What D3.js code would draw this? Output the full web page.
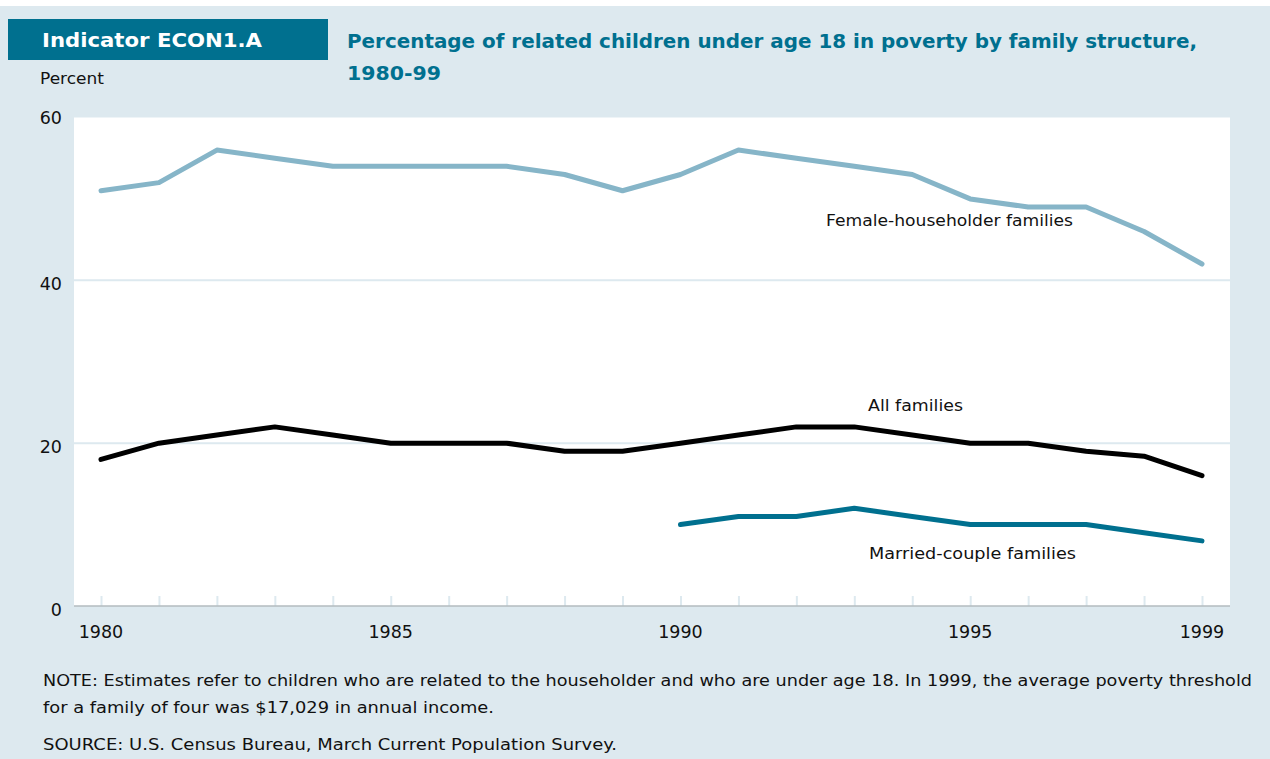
<!DOCTYPE html>
<html><head><meta charset="utf-8">
<script src="https://cdn.jsdelivr.net/npm/d3@7"></script>
<style>body{margin:0;background:#fff}svg{display:block}text{font-family:"DejaVu Sans",sans-serif}</style>
</head><body>
<script>
const years = d3.range(1980, 2000);
const femaleValues = [51,52,56,55,54,54,54,54,53,51,53,56,55,54,53,50,49,49,46,42];
const allValues = [18,20,21,22,21,20,20,20,19,19,20,21,22,22,21,20,20,19,18.4,16];
const marriedYears = d3.range(1990, 2000);
const marriedValues = [10,11,11,12,11,10,10,10,9,8];
const yTicks = [0,20,40,60];
const xTickLabels = [1980,1985,1990,1995,1999];

const W=1270,H=759;
const svg=d3.select("body").append("svg").attr("width",W).attr("height",H);
svg.append("rect").attr("x",0).attr("y",6).attr("width",W).attr("height",H-6).attr("fill","#dde9ef");

const x=d3.scaleLinear().domain([1980,1999]).range([101,1202]);
const y=d3.scaleLinear().domain([0,60]).range([606,117.5]);

function fit(sel,w){ sel.each(function(){ this.setAttribute("textLength",w); this.setAttribute("lengthAdjust","spacingAndGlyphs"); }); return sel; }

svg.append("rect").attr("x",74).attr("y",y(60)).attr("width",1230-74).attr("height",y(0)-y(60)).attr("fill","#fff");

svg.append("g").selectAll("line").data([20,40]).join("line")
 .attr("x1",74).attr("x2",1230).attr("y1",d=>y(d)).attr("y2",d=>y(d))
 .attr("stroke","#dde9ef").attr("stroke-width",2);

const xAxis=d3.axisBottom(x).tickValues(years).tickSize(-10).tickFormat("");
const gx=svg.append("g").attr("transform",`translate(0,${y(0)})`).call(xAxis);
gx.select(".domain").remove();
gx.selectAll(".tick line").attr("stroke","#dde9ef").attr("stroke-width",2);
svg.append("line").attr("x1",74).attr("x2",1230).attr("y1",y(0)).attr("y2",y(0)).attr("stroke","#b3bbbf").attr("stroke-width",1.5);
svg.append("g").selectAll("text").data(xTickLabels).join("text")
 .attr("x",d=>x(d)).attr("y",638).attr("text-anchor","middle").attr("font-size",17.5).attr("fill","#111").text(d=>d);

svg.append("g").selectAll("text").data(yTicks).join("text")
 .attr("x",62).attr("y",d=>y(d)+(d===60?6.5:9.5)).attr("text-anchor","end").attr("font-size",17.5).attr("fill","#111").text(d=>d);

const line=d3.line().x(d=>x(d[0])).y(d=>y(d[1]));
function draw(xs,vs,color){
 svg.append("path").datum(xs.map((yr,i)=>[yr,vs[i]])).attr("d",line)
  .attr("fill","none").attr("stroke",color).attr("stroke-width",5).attr("stroke-linejoin","round").attr("stroke-linecap","round");
}
draw(years,femaleValues,"#86b5c8");
draw(years,allValues,"#000");
draw(marriedYears,marriedValues,"#00708f");

const lab=[["Female-householder families",826,226,247],["All families",868,411,95],["Married-couple families",869,559,207]];
svg.append("g").selectAll("text").data(lab).join("text")
 .attr("x",d=>d[1]).attr("y",d=>d[2]).attr("font-size",16.5).attr("fill","#111").text(d=>d[0])
 .each(function(d){ fit(d3.select(this),d[3]); });

svg.append("rect").attr("x",8).attr("y",19).attr("width",320).attr("height",41).attr("fill","#00708f");
fit(svg.append("text").attr("x",42).attr("y",47).attr("font-size",19).attr("font-weight",700).attr("fill","#fff").text("Indicator ECON1.A"),220);
fit(svg.append("text").attr("x",347).attr("y",48).attr("font-size",19).attr("font-weight",700).attr("fill","#00708f").text("Percentage of related children under age 18 in poverty by family structure,"),850);
fit(svg.append("text").attr("x",347).attr("y",80).attr("font-size",19).attr("font-weight",700).attr("fill","#00708f").text("1980-99"),94);
fit(svg.append("text").attr("x",40).attr("y",84).attr("font-size",16.5).attr("fill","#111").text("Percent"),64);

const notes=[["NOTE: Estimates refer to children who are related to the householder and who are under age 18. In 1999, the average poverty threshold",686,1209],["for a family of four was $17,029 in annual income.",713,451],["SOURCE: U.S. Census Bureau, March Current Population Survey.",750,574]];
svg.append("g").selectAll("text").data(notes).join("text")
 .attr("x",43).attr("y",d=>d[1]).attr("font-size",16.5).attr("fill","#111").text(d=>d[0])
 .each(function(d){ fit(d3.select(this),d[2]); });
</script>
</body></html>
